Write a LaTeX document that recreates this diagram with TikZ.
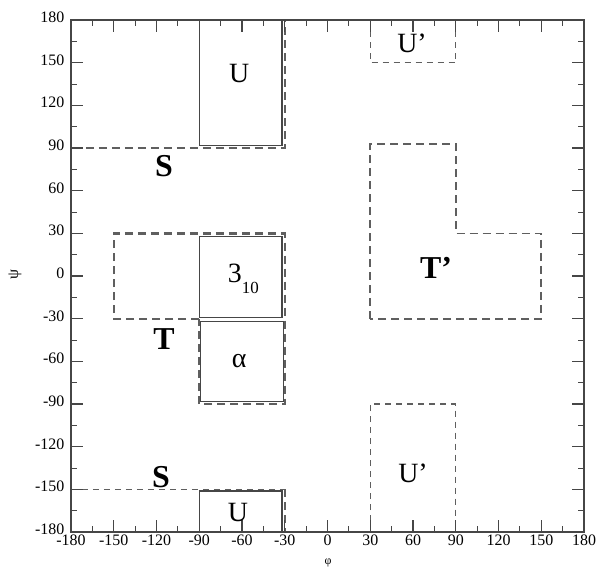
\documentclass[tikz,border=0pt]{standalone}
\usepackage{fontspec}
\setmainfont{Liberation Serif}
\definecolor{cframe}{RGB}{70,70,70}
\definecolor{cdash}{RGB}{95,95,95}
\tikzset{rama/.style={x=1.425bp,y=1.4222bp,font=\fontsize{16}{16}\selectfont},
  regdash/.style={cdash,line width=2.2bp,dash pattern=on 8bp off 5bp},
  thindash/.style={cdash,line width=1.2bp,dash pattern=on 6bp off 5bp},
  corebox/.style={cframe,line width=1.3bp},
  reglabel/.style={inner sep=0pt,anchor=base,font=\fontsize{28}{28}\selectfont},
  boldlabel/.style={inner sep=0pt,anchor=base,font=\fontsize{32}{32}\selectfont\bfseries}}

\begin{document}
\begin{tikzpicture}[rama]
    \useasboundingbox (-229.8,-205.3) rectangle (189.1,194.1);
    % S regions
    \draw[regdash] (-180,180) -- (-180,90) -- (-30,90) -- (-30,180);
    \draw[thindash] (-180,-150) -- (-30,-150);
    \draw[regdash] (-180,-150) -- (-180,-180);
    \draw[regdash] (-30,-150) -- (-30,-180);
    % T and T' regions
    \draw[regdash] (-90,-30) -- (-150,-30) -- (-150,30) -- (-30,30) -- (-30,-90) -- (-90,-90) -- cycle;
    \draw[regdash,line width=1.8bp] (30,-30) -- (30,93) -- (90,93) -- (90,30) -- (150,30) -- (150,-30) -- cycle;
    % U' regions
    \draw[thindash] (30,180) -- (30,150) -- (90,150) -- (90,180);
    \draw[thindash] (30,-180) -- (30,-90) -- (90,-90) -- (90,-180);
    % core boxes
    \draw[corebox] (-90,180) -- (-90,92) -- (-32,92) -- (-32,180);
    \draw[corebox] (-90,-29) rectangle (-32,28);
    \draw[corebox] (-89,-88) rectangle (-31,-32);
    \draw[corebox] (-90,-180) -- (-90,-151) -- (-32,-151) -- (-32,-180);
    % frame and ticks
    \draw[cframe,line width=1.5bp] (-180,-180) rectangle (180,180);
    \foreach \v in {-150,-120,...,150} {
      \draw[cframe,line width=1.2bp] (\v,-180) -- ++(0,8.4) (\v,180) -- ++(0,-8.4)
        (-180,\v) -- ++(8.4,0) (180,\v) -- ++(-8.4,0);
    }
    \foreach \v in {-165,-135,...,165} {
      \draw[cframe,line width=1bp] (\v,-180) -- ++(0,4.2) (\v,180) -- ++(0,-4.2)
        (-180,\v) -- ++(4.2,0) (180,\v) -- ++(-4.2,0);
    }
    \foreach \v [count=\i] in {-180,-150,...,180} {
      \node[inner sep=0pt,anchor=mid] (phi\i) at (\v,-188) {\v};
      \node[inner sep=0pt,anchor=mid east] (psi\i) at (-184.5,\v) {\v};
    }
    \node[rotate=90,inner sep=0pt,font=\fontsize{16}{16}\selectfont] (psilab) at (-219.3,1) {ψ};
    \node[inner sep=0pt,font=\fontsize{12}{12}\selectfont] (philab) at (0.4,-201.5) {φ};
    % region labels
    \node[reglabel] (utop) at (-62,136) {U};
    \node[reglabel] (three) at (-59,-4.2) {3\raisebox{-11bp}{\fontsize{17}{17}\selectfont 10}};
    \node[reglabel] (alpha) at (-62,-64) {α};
    \node[reglabel] (ubot) at (-62.8,-172.3) {U};
    \node[reglabel] (uptop) at (59.3,157.5) {U’};
    \node[reglabel] (upbot) at (60,-144.8) {U’};
    \node[boldlabel] (stop) at (-114.7,69.8) {S};
    \node[boldlabel] (tleft) at (-114.7,-51.3) {T};
    \node[boldlabel] (sbot) at (-116.8,-148.4) {S};
    \node[boldlabel] (tright) at (76.1,-1.4) {T’};
  \end{tikzpicture}
\end{document}
